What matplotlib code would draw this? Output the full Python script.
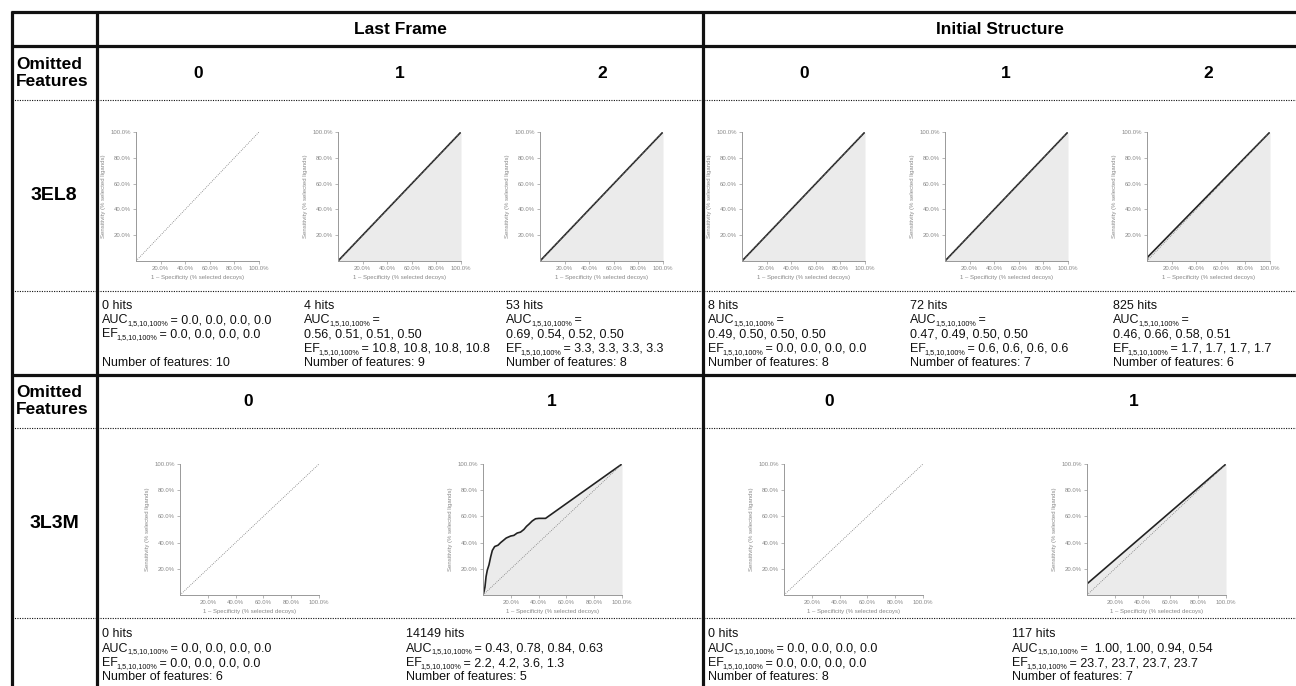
import matplotlib
matplotlib.use("Agg")
import matplotlib.pyplot as plt

plt.rcParams['font.family'] = ['Liberation Sans', 'DejaVu Sans']

W, H = 1296, 686

# ---- data ----
groups = ["Last Frame", "Initial Structure"]
targets = ["3EL8", "3L3M"]

omit_3el8 = ["0", "1", "2", "0", "1", "2"]
hits_3el8 = [0, 4, 53, 8, 72, 825]
auc_3el8 = ["0.0, 0.0, 0.0, 0.0", "0.56, 0.51, 0.51, 0.50", "0.69, 0.54, 0.52, 0.50",
            "0.49, 0.50, 0.50, 0.50", "0.47, 0.49, 0.50, 0.50", "0.46, 0.66, 0.58, 0.51"]
ef_3el8 = ["0.0, 0.0, 0.0, 0.0", "10.8, 10.8, 10.8, 10.8", "3.3, 3.3, 3.3, 3.3",
           "0.0, 0.0, 0.0, 0.0", "0.6, 0.6, 0.6, 0.6", "1.7, 1.7, 1.7, 1.7"]
nfeat_3el8 = [10, 9, 8, 8, 7, 6]
wrap_3el8 = [False, True, True, True, True, True]

omit_3l3m = ["0", "1", "0", "1"]
hits_3l3m = [0, 14149, 0, 117]
auc_3l3m = ["0.0, 0.0, 0.0, 0.0", "0.43, 0.78, 0.84, 0.63",
            "0.0, 0.0, 0.0, 0.0", " 1.00, 1.00, 0.94, 0.54"]
ef_3l3m = ["0.0, 0.0, 0.0, 0.0", "2.2, 4.2, 3.6, 1.3",
           "0.0, 0.0, 0.0, 0.0", "23.7, 23.7, 23.7, 23.7"]
nfeat_3l3m = [6, 5, 8, 7]

# ROC curves (1 - specificity, sensitivity) in %, None = no hits
roc_3el8 = [
    None,
    ([0, 100], [0, 100]),
    ([0, 100], [0, 100]),
    ([0, 100], [0, 100]),
    ([0, 100], [0, 100]),
    ([0, 0.5, 100], [0, 3, 100]),
]
roc_3l3m = [
    None,
    ([0, 0.7, 1.4, 2.2, 3.1, 4.3, 5.5, 6.7, 8.4, 10.8, 12.7, 15, 16.7, 19.9, 22.2,
      24.6, 27, 29.4, 31.3, 33, 35.4, 37.8, 40.2, 45, 100],
     [0, 2.5, 6, 14, 19, 23, 29, 34, 37, 38, 40, 42, 43.5, 45, 45.5,
      47.3, 48, 50, 52.4, 54, 56.5, 58.2, 58.5, 58.5, 100]),
    None,
    ([0, 0, 100], [0, 8.5, 100]),
]

# ---- layout (pixels) ----
row1_axes_left = [136, 338, 540, 742, 945, 1147]
row2_axes_left = [180, 483, 784, 1087]
row1_text_x = [102, 304, 506, 708, 910, 1113]
row2_text_x = [102, 406, 708, 1012]
row1_head_x = [198, 400, 602, 804, 1006, 1208]
row2_head_x = [248, 552, 829, 1134]

fig = plt.figure(figsize=(W / 100, H / 100), dpi=100)
bg = fig.add_axes([0, 0, 1, 1])
bg.set_xlim(0, W)
bg.set_ylim(H, 0)
bg.axis('off')
renderer = fig.canvas.get_renderer()

# table lines
thick = dict(color='#111111', lw=2.3, solid_capstyle='butt')
dots = dict(color='#111111', lw=0.8, linestyle=(0, (1, 1.2)))
for y in [12, 46, 375]:
    bg.plot([11, W], [y, y], **thick)
for x in [12, 97, 703]:
    bg.plot([x, x], [11, H], **thick)
for y in [100, 291, 428, 618]:
    bg.plot([12, W], [y, y], **dots)

# headers
bg.text(400, 30, groups[0], ha='center', va='center', fontsize=12.5, fontweight='bold')
bg.text(1000, 30, groups[1], ha='center', va='center', fontsize=12.5, fontweight='bold')
for y in [73, 401]:
    bg.text(16, y, "Omitted\nFeatures", ha='left', va='center', fontsize=12.5,
            fontweight='bold', linespacing=1.15)
for x, s in zip(row1_head_x, omit_3el8):
    bg.text(x, 74, s, ha='center', va='center', fontsize=12.5, fontweight='bold')
for x, s in zip(row2_head_x, omit_3l3m):
    bg.text(x, 402, s, ha='center', va='center', fontsize=12.5, fontweight='bold')
bg.text(54, 196, targets[0], ha='center', va='center', fontsize=14, fontweight='bold')
bg.text(54, 523, targets[1], ha='center', va='center', fontsize=14, fontweight='bold')

SUB = "1,5,10,100%"
FS = 9


def put(x, y, s, size=FS):
    # draw text at baseline y, return x of its right end
    t = bg.text(x, y, s, fontsize=size, va='baseline', ha='left', color='#111111')
    bb = t.get_window_extent(renderer=renderer)
    return x + bb.width - 2


def put_line(x, y, parts):
    # parts: list of (text, is_subscript)
    for s, is_sub in parts:
        if is_sub:
            x = put(x + 0.5, y + 2, s, size=5.2) + 1
        else:
            x = put(x, y, s)


def cell_lines(hits, auc, ef, nf, wrap, blank):
    lines = [[("%d hits" % hits, False)]]
    if wrap:
        lines += [[("AUC", False), (SUB, True), (" =", False)], [(auc, False)]]
    else:
        lines += [[("AUC", False), (SUB, True), (" = " + auc, False)]]
    lines += [[("EF", False), (SUB, True), (" = " + ef, False)]]
    if blank:
        lines += [[]]
    lines += [[("Number of features: %d" % nf, False)]]
    return lines


for i in range(6):
    lines = cell_lines(hits_3el8[i], auc_3el8[i], ef_3el8[i], nfeat_3el8[i],
                       wrap_3el8[i], not wrap_3el8[i])
    for k, parts in enumerate(lines):
        put_line(row1_text_x[i], 309 + 14.2 * k, parts)

for i in range(4):
    lines = cell_lines(hits_3l3m[i], auc_3l3m[i], ef_3l3m[i], nfeat_3l3m[i], False, False)
    for k, parts in enumerate(lines):
        put_line(row2_text_x[i], 637 + 14.5 * k, parts)


def roc_panel(left, top, w, h, curve):
    ax = fig.add_axes([left / W, (H - top - h) / H, w / W, h / H])
    ax.set_xlim(0, 100)
    ax.set_ylim(0, 100)
    if curve is not None:
        fpr, tpr = curve
        ax.fill_between(fpr, tpr, 0, color='#ebebeb', lw=0)
        ax.plot(fpr, tpr, color='#222222', lw=1.2)
    ax.plot([0, 100], [0, 100], linestyle=(0, (1, 1.5)), color='#777777', lw=0.6)
    for sp in ['top', 'right']:
        ax.spines[sp].set_visible(False)
    for sp in ['left', 'bottom']:
        ax.spines[sp].set_color('#999999')
        ax.spines[sp].set_linewidth(0.7)
    ticks = [20, 40, 60, 80, 100]
    labels = ["%.1f%%" % t for t in ticks]
    ax.set_xticks(ticks)
    ax.set_xticklabels(labels)
    ax.set_yticks(ticks)
    ax.set_yticklabels(labels)
    ax.tick_params(length=2, width=0.5, color='#999999', labelsize=4.3,
                   labelcolor='#888888', pad=1.5)
    ax.set_xlabel("1 \u2013 Specificity (% selected decoys)", fontsize=4.3,
                  color='#888888', labelpad=3)
    ax.set_ylabel("Sensitivity (% selected ligands)", fontsize=4.3,
                  color='#888888', labelpad=3)
    ax.patch.set_alpha(0)
    return ax


for i in range(6):
    roc_panel(row1_axes_left[i], 132, 123, 129, roc_3el8[i])
for i in range(4):
    roc_panel(row2_axes_left[i], 464, 139, 131, roc_3l3m[i])

fig.savefig("out.png", dpi=100, facecolor='white')
